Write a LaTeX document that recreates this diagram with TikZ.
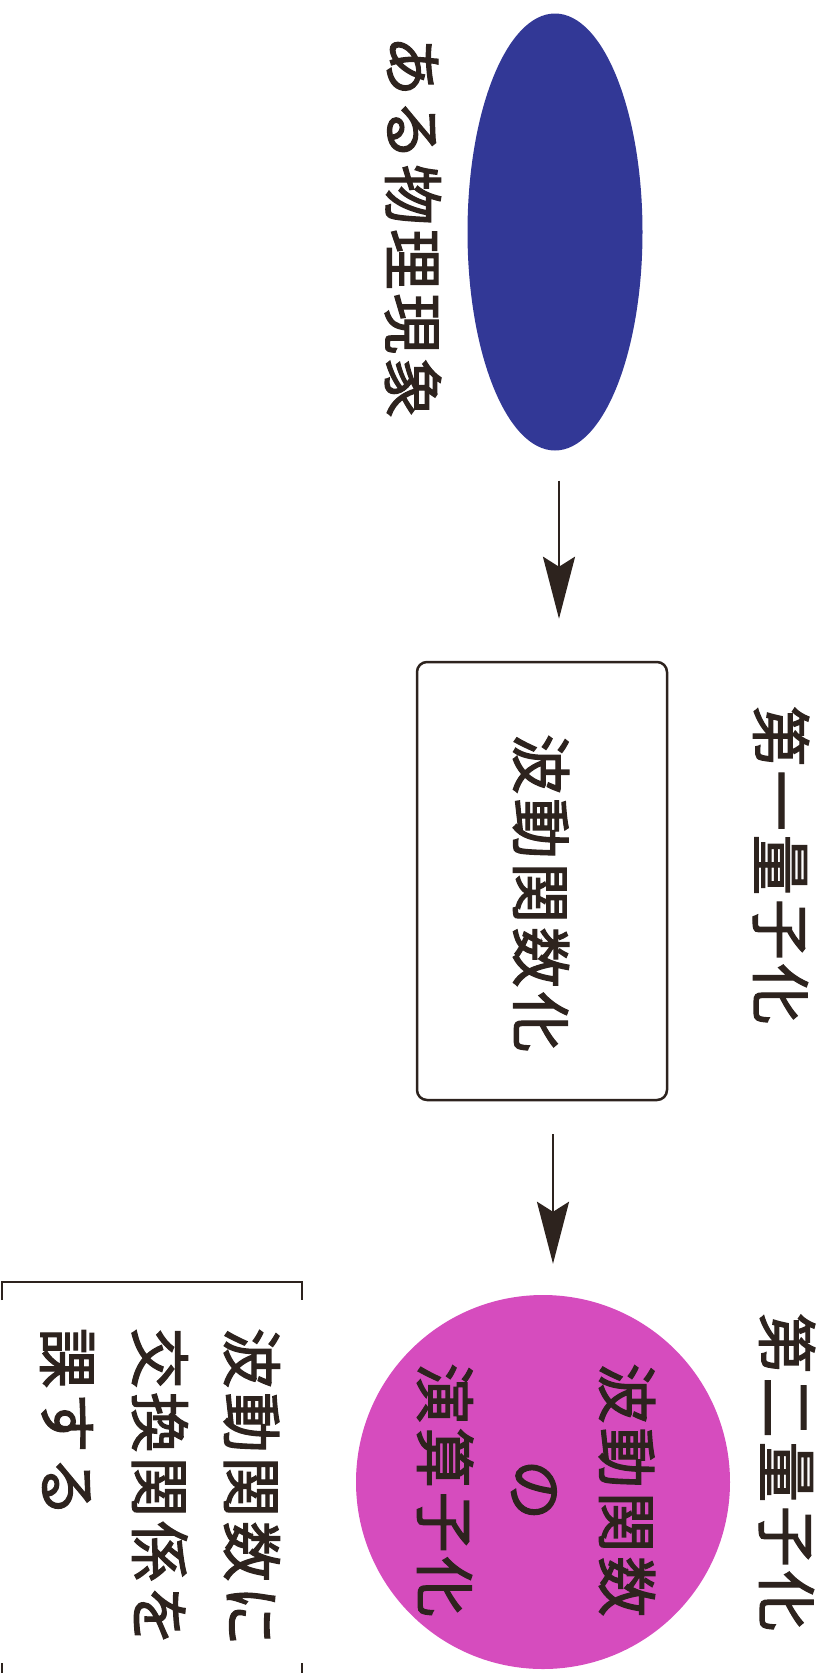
\documentclass[tikz,border=0pt]{standalone}
\usepackage{fontspec}
\newfontfamily\jpw[LetterSpace=6.5,FakeBold=2]{Noto Sans CJK JP}
\usetikzlibrary{shapes.geometric,arrows.meta}
\definecolor{ink}{RGB}{45,35,30}
\definecolor{phblue}{RGB}{50,56,150}
\definecolor{phmag}{RGB}{214,76,190}
\begin{document}
\begin{tikzpicture}[x=1pt,y=-1pt,
  lbl/.style={rotate=-90, inner sep=0pt, text=ink, font=\jpw\fontsize{60.5}{92}\selectfont},
  arr/.style={draw=ink, line width=2.8pt, -{Stealth[length=62pt,width=32pt,inset=10pt]}},
  box/.style={draw=ink, line width=2.5pt, rounded corners=10pt, minimum width=250pt, minimum height=438pt},
  brk/.style={draw=ink, line width=2.5pt},
]
\useasboundingbox (0,0) rectangle (827,1673);
\node[ellipse, fill=phblue, minimum width=175pt, minimum height=437pt, inner sep=0pt] (ell) at (555,232) {};
\node[lbl] (t1) at (413,227) {ある物理現象};
\node[box] (rect) at (542,881) {};
\node[lbl] (t2) at (541,893) {波動関数化};
\node[lbl] (t3) at (781,865) {第一量子化};
\node[circle, fill=phmag, minimum size=374pt, inner sep=0pt] (circ) at (543,1482) {};
\node[lbl, font=\jpw\fontsize{60.5}{91}\selectfont, align=center] (t4) at (536,1490) {波動関数\\の\\演算子化};
\node[lbl] (t5) at (787,1472) {第二量子化};
\node[lbl, align=left] (t6) at (160,1487) {波動関数に\\交換関係を\\課する};
\draw[brk] (2,1300) -- (2,1282) -- (302,1282) -- (302,1300);
\draw[brk] (2,1663) -- (2,1680) -- (302,1680) -- (302,1663);
\draw[arr] ([xshift=4pt,yshift=-30pt]ell.south) -- ([xshift=17pt,yshift=42pt]rect.north);
\draw[arr] ([xshift=11pt,yshift=-33pt]rect.south) -- ([xshift=10pt,yshift=31pt]circ.north);
\end{tikzpicture}
\end{document}
